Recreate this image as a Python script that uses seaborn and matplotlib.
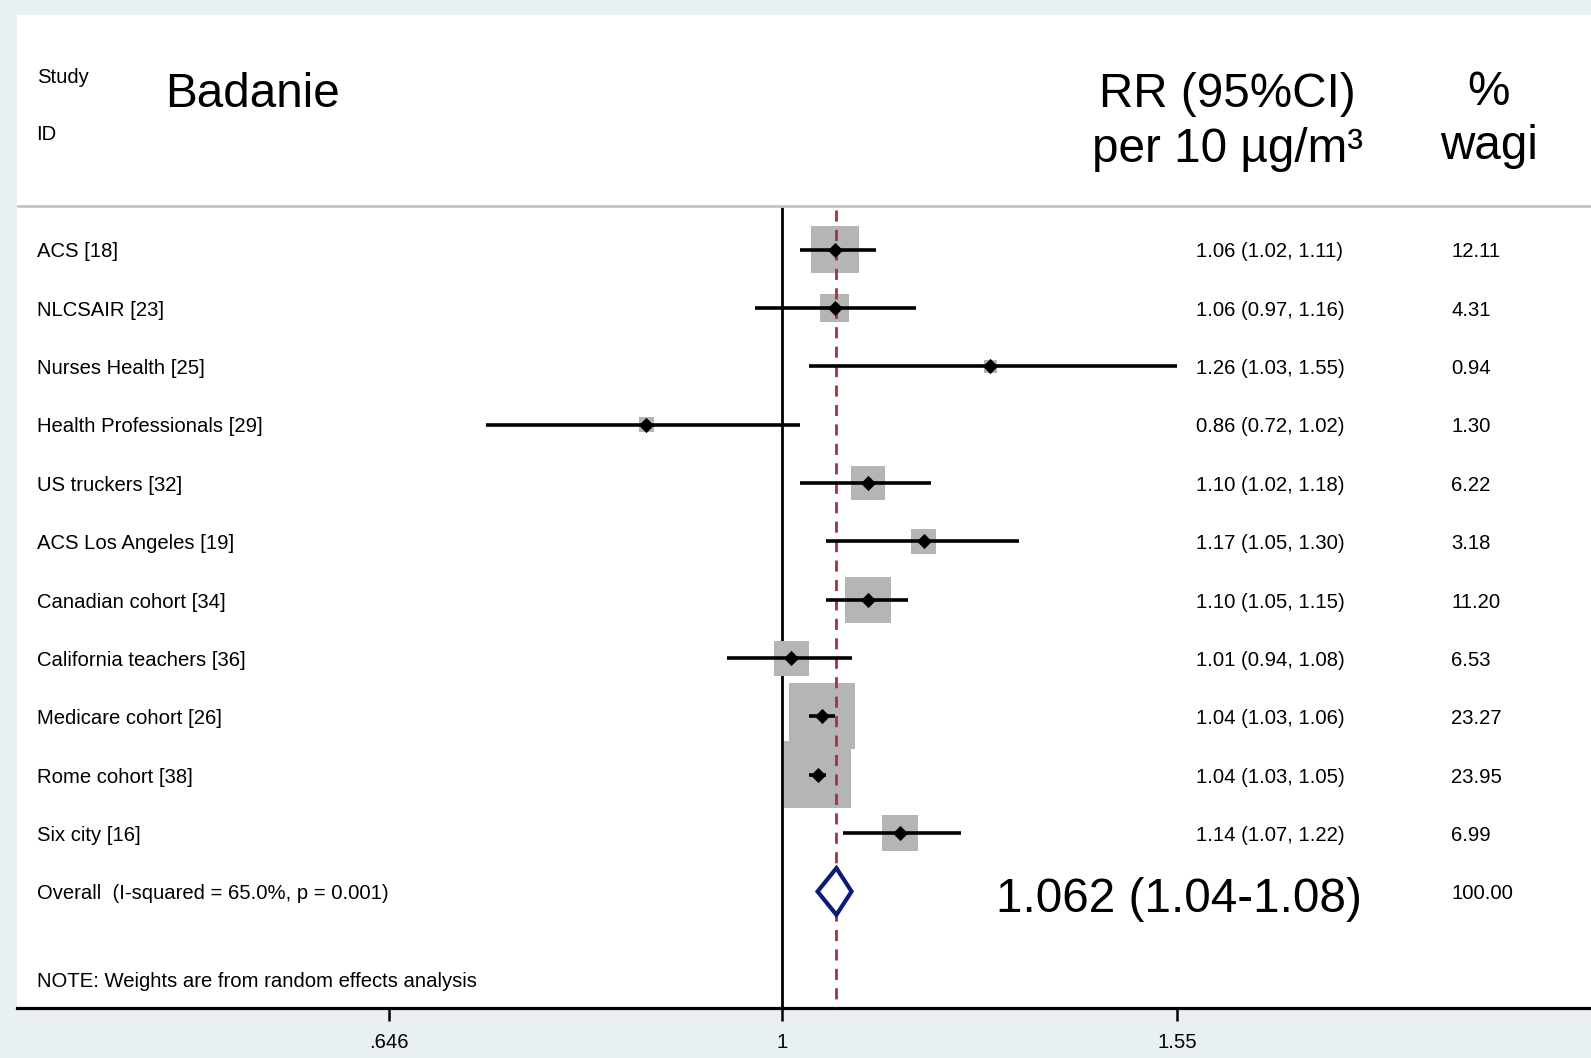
import numpy as np
import pandas as pd
import matplotlib
matplotlib.use("Agg")
import matplotlib.pyplot as plt
import matplotlib.transforms as mtransforms
import seaborn as sns

# ---------------- data ----------------
studies = ["ACS [18]", "NLCSAIR [23]", "Nurses Health [25]", "Health Professionals [29]",
           "US truckers [32]", "ACS Los Angeles [19]", "Canadian cohort [34]",
           "California teachers [36]", "Medicare cohort [26]", "Rome cohort [38]", "Six city [16]"]
rr = [1.06, 1.06, 1.26, 0.86, 1.10, 1.17, 1.10, 1.01, 1.045, 1.04, 1.14]
ci_lo = [1.02, 0.97, 1.03, 0.72, 1.02, 1.05, 1.05, 0.94, 1.03, 1.03, 1.07]
ci_hi = [1.11, 1.16, 1.55, 1.02, 1.18, 1.30, 1.15, 1.08, 1.06, 1.05, 1.22]
ci_text = ["1.06 (1.02, 1.11)", "1.06 (0.97, 1.16)", "1.26 (1.03, 1.55)", "0.86 (0.72, 1.02)",
           "1.10 (1.02, 1.18)", "1.17 (1.05, 1.30)", "1.10 (1.05, 1.15)", "1.01 (0.94, 1.08)",
           "1.04 (1.03, 1.06)", "1.04 (1.03, 1.05)", "1.14 (1.07, 1.22)"]
weights = [12.11, 4.31, 0.94, 1.30, 6.22, 3.18, 11.20, 6.53, 23.27, 23.95, 6.99]
weight_text = ["12.11", "4.31", "0.94", "1.30", "6.22", "3.18", "11.20", "6.53", "23.27", "23.95", "6.99"]

overall_rr = 1.062
overall_lo = 1.04
overall_hi = 1.08
overall_label = "Overall  (I-squared = 65.0%, p = 0.001)"
overall_big = "1.062 (1.04-1.08)"
overall_weight = "100.00"
note = "NOTE: Weights are from random effects analysis"

xticks = [0.646, 1.0, 1.55]
xticklabels = [".646", "1", "1.55"]

# ---------------- style ----------------
sns.set_style("white")
plt.rcParams["font.family"] = ["Liberation Sans", "DejaVu Sans"]
plt.rcParams["text.color"] = "black"
plt.rcParams["xtick.color"] = "black"
plt.rcParams["xtick.labelcolor"] = "black"

BG = "#e9f0f2"
fig = plt.figure(figsize=(15.91, 10.58), dpi=100, facecolor=BG)
ax = fig.add_axes([17.2 / 1591, 50.4 / 1058, 1573.8 / 1591, 992.4 / 1058])
ax.set_facecolor("white")

ax.set_xscale("log")
ax.set_xlim(0.4277, 2.4544)
ax.set_ylim(12.99, -4.017)

df = pd.DataFrame({"study": studies, "rr": rr, "lo": ci_lo, "hi": ci_hi,
                   "w": weights, "row": np.arange(len(studies))})

# weight squares (area proportional to weight)
wmax = max(weights)
sns.scatterplot(data=df, x="rr", y="row", size="w", sizes=(0, 97.3 * wmax),
                size_norm=(0, wmax), marker="s", color="#b5b5b5", linewidth=0,
                legend=False, ax=ax, zorder=2)

# reference line at 1
ax.vlines(1.0, -0.75, 12.99, color="black", lw=2.0, zorder=1)
# overall dashed line
ax.vlines(overall_rr, -0.68, 12.99, color="#a3323c", lw=2.0,
          linestyles=(0, (4, 3)), zorder=3)

# confidence intervals
ax.hlines(df["row"], df["lo"], df["hi"], color="black", lw=2.6, zorder=4)
# point estimates
sns.scatterplot(data=df, x="rr", y="row", marker="D", s=60, color="black",
                linewidth=0, legend=False, ax=ax, zorder=5)

# overall diamond
orow = len(studies)
h = 0.40
ax.fill([overall_lo, overall_rr, overall_hi, overall_rr],
        [orow, orow - h, orow, orow + h], facecolor="white",
        edgecolor="#0d1a7a", lw=3.0, zorder=6)

# header separator
ax.axhline(-0.747, color="#c4c4c4", lw=2.0, zorder=1)

# axis styling
for s in ["top", "right", "left"]:
    ax.spines[s].set_visible(False)
ax.spines["bottom"].set_linewidth(2.3)
ax.spines["bottom"].set_color("black")
ax.set_yticks([])
ax.set_xticks(xticks)
ax.set_xticklabels(xticklabels)
ax.xaxis.set_minor_locator(matplotlib.ticker.NullLocator())
ax.tick_params(axis="x", direction="out", length=9, width=1.8, color="black",
               labelcolor="black", labelsize=14.6, pad=9, bottom=True)
ax.set_xlabel("")
ax.set_ylabel("")

# text columns (x in axes fraction, y in data rows)
tr = mtransforms.blended_transform_factory(ax.transAxes, ax.transData)
small = 14.6
big = 34.3
x_lab = 0.0123
x_val = 0.7492
x_w = 0.9111
dy = 0.04

for i in range(len(studies)):
    ax.text(x_lab, i + dy, studies[i], transform=tr, fontsize=small, va="center", ha="left")
    ax.text(x_val, i + dy, ci_text[i], transform=tr, fontsize=small, va="center", ha="left")
    ax.text(x_w, i + dy, weight_text[i], transform=tr, fontsize=small, va="center", ha="left")

ax.text(x_lab, orow + dy, overall_label, transform=tr, fontsize=small, va="center", ha="left")
ax.text(x_w, orow + dy, overall_weight, transform=tr, fontsize=small, va="center", ha="left")
ax.text(0.8543, orow + 0.14, overall_big, transform=tr, fontsize=big, va="center", ha="right")
ax.text(x_lab, 12.5 + dy, note, transform=tr, fontsize=small, va="center", ha="left")

# header
ax.text(x_lab, -2.95, "Study", transform=tr, fontsize=small, va="center", ha="left")
ax.text(x_lab, -1.98, "ID", transform=tr, fontsize=small, va="center", ha="left")
ax.text(0.0942, -2.45, "Badanie", transform=tr, fontsize=big, va="baseline", ha="left")
ax.text(0.7692, -2.45, "RR (95%CI)", transform=tr, fontsize=big, va="baseline", ha="center")
ax.text(0.7692, -1.493, "per 10 µg/m³", transform=tr, fontsize=big, va="baseline", ha="center")
ax.text(0.9350, -2.48, "%", transform=tr, fontsize=big, va="baseline", ha="center")
ax.text(0.9350, -1.547, "wagi", transform=tr, fontsize=big, va="baseline", ha="center")

fig.savefig("out.png", dpi=100, facecolor=BG)
